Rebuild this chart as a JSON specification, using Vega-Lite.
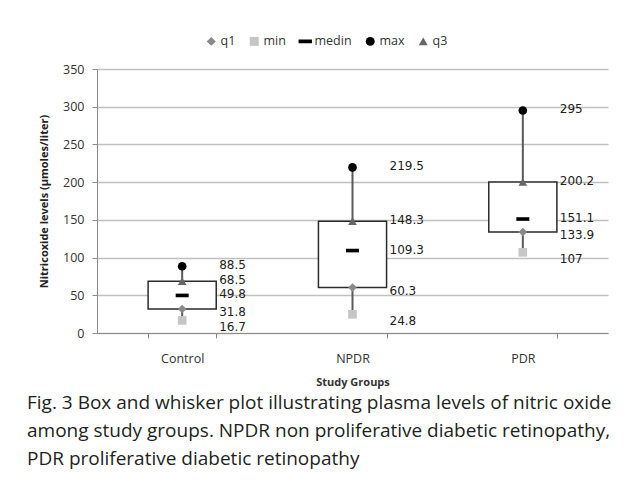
{
  "$schema": "https://vega.github.io/schema/vega-lite/v6.json",
  "autosize": {"type": "none"},
  "width": 511,
  "height": 264,
  "padding": {"left": 97, "top": 69, "right": 21, "bottom": 154},
  "background": "white",
  "config": {
    "view": {"stroke": null},
    "font": "Open Sans"
  },
  "title": {
    "text": [
      "Fig. 3  Box and whisker plot illustrating plasma levels of nitric oxide",
      "among study groups. NPDR non proliferative diabetic retinopathy,",
      "PDR proliferative diabetic retinopathy"
    ],
    "orient": "bottom",
    "anchor": "start",
    "frame": "group",
    "dx": -70,
    "offset": 6,
    "font": "Open Sans",
    "fontSize": 19,
    "fontWeight": "normal",
    "lineHeight": 28,
    "color": "#231f20"
  },
  "data": {
    "values": [
      {"group": "Control", "min": 16.7, "q1": 31.8, "medin": 49.8, "q3": 68.5, "max": 88.5},
      {"group": "NPDR", "min": 24.8, "q1": 60.3, "medin": 109.3, "q3": 148.3, "max": 219.5},
      {"group": "PDR", "min": 107, "q1": 133.9, "medin": 151.1, "q3": 200.2, "max": 295}
    ]
  },
  "encoding": {
    "x": {
      "field": "group",
      "type": "nominal",
      "sort": ["Control", "NPDR", "PDR"],
      "scale": {"paddingInner": 0.6, "paddingOuter": 0.3},
      "axis": {
        "title": "Study Groups",
        "titleFont": "Open Sans",
        "titleFontSize": 11,
        "titleFontWeight": "bold",
        "titleColor": "#333333",
        "titlePadding": 12,
        "labelAngle": 0,
        "labelFont": "Open Sans",
        "labelFontSize": 12.5,
        "labelColor": "#333333",
        "labelPadding": 14,
        "domainColor": "#8c8c8c",
        "tickColor": "#8c8c8c",
        "tickSize": 5,
        "tickBand": "extent",
        "grid": false
      }
    }
  },
  "layer": [
    {
      "mark": {"type": "rule", "color": "#595959", "strokeWidth": 2},
      "encoding": {
        "y": {
          "field": "min",
          "type": "quantitative",
          "scale": {"domain": [0, 350], "nice": false},
          "axis": {
            "title": "Nitricoxide levels (µmoles/liter)",
            "titleFont": "Open Sans",
            "titleFontSize": 11,
            "titleFontWeight": "bold",
            "titleColor": "#222222",
            "titlePadding": 13,
            "values": [0, 50, 100, 150, 200, 250, 300, 350],
            "labelFont": "Open Sans",
            "labelFontSize": 12.5,
            "labelColor": "#333333",
            "labelPadding": 8,
            "domainColor": "#8c8c8c",
            "tickColor": "#8c8c8c",
            "tickSize": 5,
            "gridColor": "#c0c0c0",
            "gridWidth": 1.3
          }
        },
        "y2": {"field": "max"}
      }
    },
    {
      "mark": {"type": "bar", "fill": "white", "stroke": "#2b2b2b", "strokeWidth": 1.5},
      "encoding": {
        "y": {
          "field": "q1",
          "type": "quantitative",
          "scale": {"domain": [0, 350], "nice": false},
          "axis": {
            "title": "Nitricoxide levels (µmoles/liter)",
            "titleFont": "Open Sans",
            "titleFontSize": 11,
            "titleFontWeight": "bold",
            "titleColor": "#222222",
            "titlePadding": 13,
            "values": [0, 50, 100, 150, 200, 250, 300, 350],
            "labelFont": "Open Sans",
            "labelFontSize": 12.5,
            "labelColor": "#333333",
            "labelPadding": 8,
            "domainColor": "#8c8c8c",
            "tickColor": "#8c8c8c",
            "tickSize": 5,
            "gridColor": "#c0c0c0",
            "gridWidth": 1.3
          }
        },
        "y2": {"field": "q3"}
      }
    },
    {
      "transform": [{"fold": ["q1", "min", "medin", "max", "q3"], "as": ["stat", "value"]}],
      "encoding": {
        "y": {
          "field": "value",
          "type": "quantitative",
          "scale": {"domain": [0, 350], "nice": false},
          "axis": {
            "title": "Nitricoxide levels (µmoles/liter)",
            "titleFont": "Open Sans",
            "titleFontSize": 11,
            "titleFontWeight": "bold",
            "titleColor": "#222222",
            "titlePadding": 13,
            "values": [0, 50, 100, 150, 200, 250, 300, 350],
            "labelFont": "Open Sans",
            "labelFontSize": 12.5,
            "labelColor": "#333333",
            "labelPadding": 8,
            "domainColor": "#8c8c8c",
            "tickColor": "#8c8c8c",
            "tickSize": 5,
            "gridColor": "#c0c0c0",
            "gridWidth": 1.3
          }
        }
      },
      "layer": [
        {
          "mark": {"type": "point", "filled": true, "opacity": 1, "size": 75},
          "encoding": {
            "shape": {
              "field": "stat",
              "type": "nominal",
              "scale": {
                "domain": ["q1", "min", "medin", "max", "q3"],
                "range": ["diamond", "square", "M-1.5,-0.42H1.5V0.42H-1.5Z", "circle", "triangle-up"]
              },
              "legend": {
                "title": null,
                "orient": "none",
                "direction": "horizontal",
                "legendX": 108,
                "legendY": -34,
                "padding": 0,
                "labelFont": "Open Sans",
                "labelFontSize": 12.5,
                "labelColor": "#333333",
                "labelOffset": 3,
                "columnPadding": 12,
                "symbolSize": 80,
                "symbolStrokeWidth": 0
              }
            },
            "color": {
              "field": "stat",
              "type": "nominal",
              "scale": {
                "domain": ["q1", "min", "medin", "max", "q3"],
                "range": ["#8a8a8a", "#c6c6c6", "#000000", "#000000", "#666666"]
              },
              "legend": {
                "title": null,
                "orient": "none",
                "direction": "horizontal",
                "legendX": 108,
                "legendY": -34,
                "padding": 0,
                "labelFont": "Open Sans",
                "labelFontSize": 12.5,
                "labelColor": "#333333",
                "labelOffset": 3,
                "columnPadding": 12,
                "symbolSize": 80,
                "symbolStrokeWidth": 0
              }
            }
          }
        },
        {
          "transform": [{"filter": "datum.stat === 'min'"}],
          "mark": {"type": "text", "align": "left", "dx": 37, "dy": 7, "font": "DejaVu Sans", "fontSize": 12, "color": "#222222"},
          "encoding": {
            "text": {"field": "value", "type": "nominal"}
          }
        },
        {
          "transform": [{"filter": "datum.stat === 'q1'"}],
          "mark": {"type": "text", "align": "left", "dx": 37, "dy": 3, "font": "DejaVu Sans", "fontSize": 12, "color": "#222222"},
          "encoding": {
            "text": {"field": "value", "type": "nominal"}
          }
        },
        {
          "transform": [{"filter": "datum.stat !== 'min' && datum.stat !== 'q1'"}],
          "mark": {"type": "text", "align": "left", "dx": 37, "dy": -1, "font": "DejaVu Sans", "fontSize": 12, "color": "#222222"},
          "encoding": {
            "text": {"field": "value", "type": "nominal"}
          }
        }
      ]
    }
  ]
}
